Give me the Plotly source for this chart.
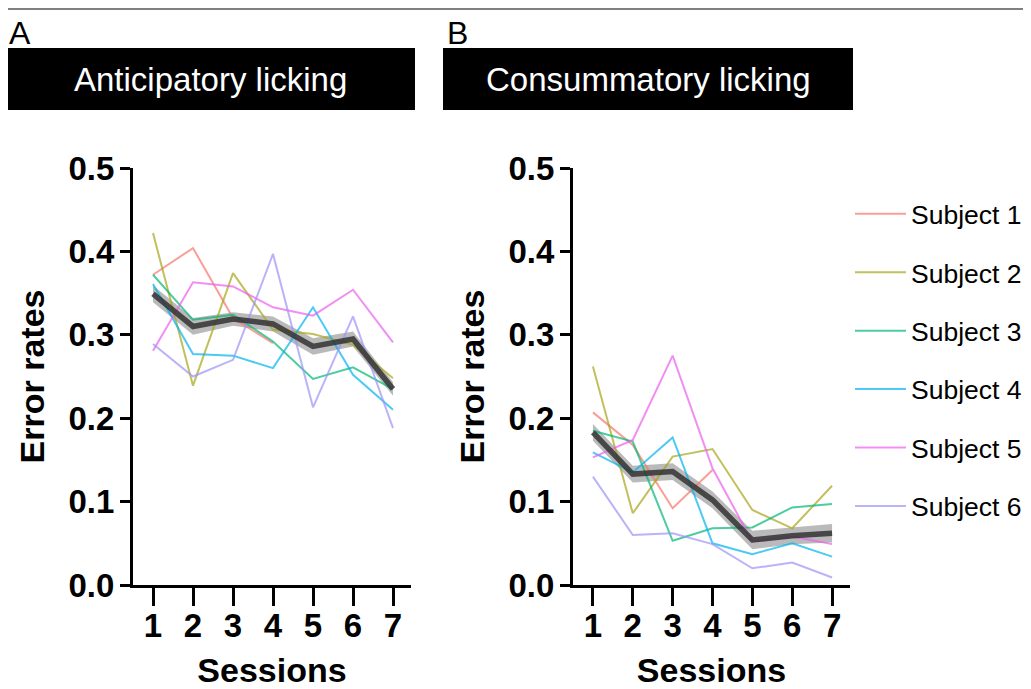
import plotly.graph_objects as go

# ---------------- data ----------------
sessions = [1, 2, 3, 4, 5, 6, 7]
subject_names = ["Subject 1", "Subject 2", "Subject 3", "Subject 4", "Subject 5", "Subject 6"]
x_ticks = [1, 2, 3, 4, 5, 6, 7]
y_ticks = [0.0, 0.1, 0.2, 0.3, 0.4, 0.5]

# Panel A - Anticipatory licking
s1_a = [0.372, 0.404, 0.320, 0.290]
s2_a = [0.422, 0.239, 0.374, 0.306, 0.301, 0.288, 0.248]
s3_a = [0.372, 0.318, 0.324, 0.292, 0.247, 0.261, 0.235]
s4_a = [0.361, 0.277, 0.275, 0.260, 0.333, 0.252, 0.210]
s5_a = [0.281, 0.363, 0.358, 0.333, 0.323, 0.354, 0.291]
s6_a = [0.289, 0.250, 0.270, 0.397, 0.213, 0.322, 0.188]
mean_a = [0.349, 0.310, 0.319, 0.313, 0.286, 0.295, 0.235]
sem_a = [0.010, 0.010, 0.008, 0.009, 0.010, 0.009, 0.008]

# Panel B - Consummatory licking
s1_b = [0.207, 0.168, 0.092, 0.138]
s2_b = [0.262, 0.086, 0.154, 0.163, 0.090, 0.068, 0.119]
s3_b = [0.185, 0.172, 0.053, 0.068, 0.069, 0.093, 0.097]
s4_b = [0.159, 0.135, 0.177, 0.050, 0.037, 0.050, 0.034]
s5_b = [0.153, 0.174, 0.275, 0.140, 0.052, 0.058, 0.049]
s6_b = [0.130, 0.060, 0.062, 0.049, 0.020, 0.027, 0.009]
mean_b = [0.183, 0.133, 0.136, 0.102, 0.054, 0.059, 0.062]
sem_b = [0.010, 0.010, 0.010, 0.010, 0.011, 0.010, 0.011]

panel_titles = ["Anticipatory licking", "Consummatory licking"]
panel_letters = ["A", "B"]

# ---------------- style ----------------
colors = ["#f8766d", "#a9a51a", "#00b877", "#00b4ef", "#ec5fee", "#9d94f7"]
OFF = 8                      # page body margin
W, H = 1031 - OFF, 689 - OFF
FONT = "Liberation Sans, Arial, sans-serif"


def px(rx):
    return (rx - OFF) / W


def py(ry):
    return 1 - (ry - OFF) / H


fig = go.Figure()

panels = [
    ([s1_a, s2_a, s3_a, s4_a, s5_a, s6_a], mean_a, sem_a, "x", "y"),
    ([s1_b, s2_b, s3_b, s4_b, s5_b, s6_b], mean_b, sem_b, "x2", "y2"),
]

for pi, (subs, mean, sem, xa, ya) in enumerate(panels):
    upper = [m + s for m, s in zip(mean, sem)]
    lower = [m - s for m, s in zip(mean, sem)]
    fig.add_trace(go.Scatter(
        x=sessions + sessions[::-1], y=upper + lower[::-1],
        fill="toself", fillcolor="rgba(140,140,140,0.6)", line=dict(width=0),
        mode="lines", showlegend=False, hoverinfo="skip", xaxis=xa, yaxis=ya))
    for si, vals in enumerate(subs):
        fig.add_trace(go.Scatter(
            x=sessions[:len(vals)], y=vals, mode="lines",
            line=dict(color=colors[si], width=2), opacity=0.7,
            name=subject_names[si], legendgroup=subject_names[si],
            showlegend=(pi == 1), xaxis=xa, yaxis=ya))
    fig.add_trace(go.Scatter(
        x=sessions, y=mean, mode="lines",
        line=dict(color="#333333", width=5.5), opacity=0.85,
        showlegend=False, xaxis=xa, yaxis=ya))

axis_common_x = dict(
    range=[0.5, 7.45], tickmode="array", tickvals=x_ticks,
    ticktext=[str(t) for t in x_ticks],
    showline=True, linecolor="black", linewidth=3,
    ticks="outside", ticklen=18, tickwidth=3, tickcolor="black",
    ticklabelstandoff=-9,
    tickfont=dict(family=FONT, size=33, color="black", weight="bold"),
    showgrid=False, zeroline=False, automargin=False,
    title=dict(text="Sessions", standoff=19,
               font=dict(family=FONT, size=34, color="black", weight="bold")),
)
axis_common_y = dict(
    range=[0, 0.5], tickmode="array", tickvals=y_ticks,
    ticktext=[f"{t:.1f}" for t in y_ticks],
    showline=True, linecolor="black", linewidth=3,
    ticks="outside", ticklen=10, tickwidth=3, tickcolor="black",
    ticklabelstandoff=-1,
    tickfont=dict(family=FONT, size=33, color="black", weight="bold"),
    showgrid=False, zeroline=False, automargin=False,
    title=dict(text="Error rates", standoff=14,
               font=dict(family=FONT, size=34, color="black", weight="bold")),
)

fig.update_layout(
    width=W, height=H,
    margin=dict(l=0, r=0, t=0, b=0),
    paper_bgcolor="white", plot_bgcolor="white",
    xaxis=dict(domain=[px(133), px(411)], anchor="y", **axis_common_x),
    yaxis=dict(domain=[py(585), py(168)], anchor="x", **axis_common_y),
    xaxis2=dict(domain=[px(573), px(850)], anchor="y2", **axis_common_x),
    yaxis2=dict(domain=[py(585), py(168)], anchor="x2", **axis_common_y),
    legend=dict(
        x=px(850), xanchor="left", y=py(190), yanchor="top",
        font=dict(family=FONT, size=26.5, color="black"),
        tracegroupgap=21, bgcolor="rgba(0,0,0,0)", itemwidth=51,
    ),
    showlegend=True,
)

# top grey rule
fig.add_shape(type="line", xref="paper", yref="paper", x0=0, x1=1,
              y0=1 - 1 / H, y1=1 - 1 / H, line=dict(color="#808080", width=2))

# banners
banners = [(5, 415), (443, 853)]
for (bx0, bx1), title, letter in zip(banners, panel_titles, panel_letters):
    fig.add_shape(type="rect", xref="paper", yref="paper",
                  x0=px(bx0), x1=px(bx1), y0=py(110), y1=py(48),
                  fillcolor="black", line=dict(width=0))
    fig.add_annotation(xref="paper", yref="paper", x=px((bx0 + bx1) / 2), y=py(79),
                       text=title, showarrow=False, xanchor="center", yanchor="middle",
                       font=dict(family=FONT, size=33, color="white"))
    fig.add_annotation(xref="paper", yref="paper", x=px(bx0 + 2), y=py(33),
                       text=letter, showarrow=False, xanchor="left", yanchor="middle",
                       font=dict(family=FONT, size=32, color="black"))

fig.write_html("out.html")
